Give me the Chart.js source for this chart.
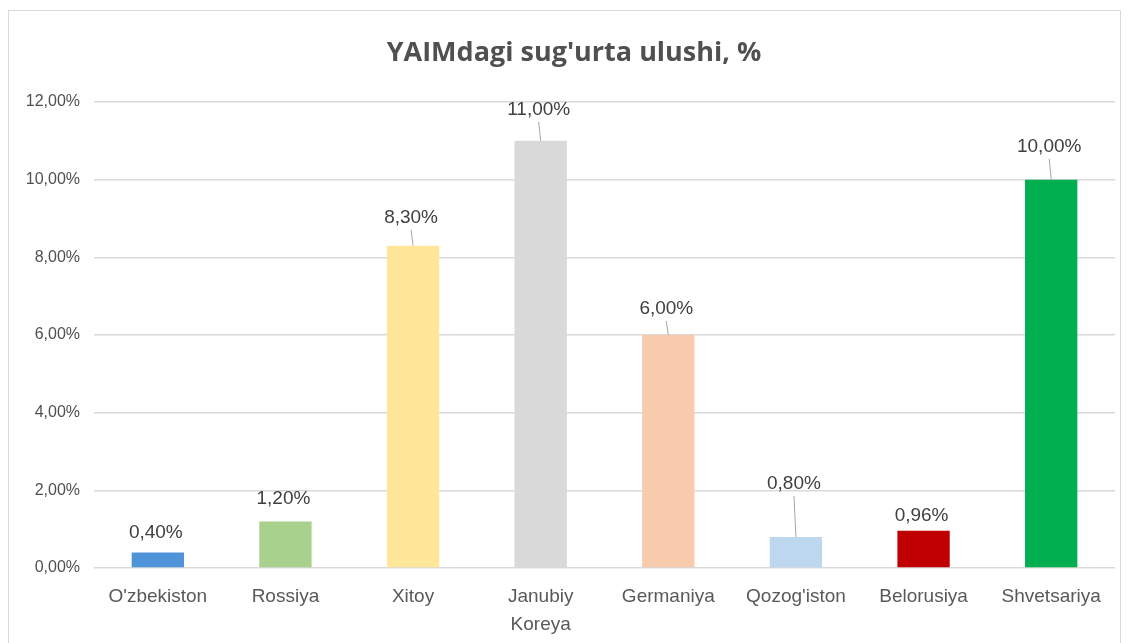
<!DOCTYPE html>
<html lang="uz">
<head>
    <meta charset="UTF-8">
    <title>YAIMdagi sug'urta ulushi</title>
    <style>
        body { margin: 0; background: #fff; }
        #frame {
            position: absolute;
            left: 8px; top: 10px;
            width: 1111px; height: 640px;
            border: 1px solid #d9d9d9;
            border-bottom: none;
        }
        #wrap { position: absolute; left: 0; top: 0; width: 1128px; height: 643px; }
    </style>
    <script src="https://cdn.jsdelivr.net/npm/chart.js"></script>
</head>
<body>
    <div id="frame"></div>
    <div id="wrap"><canvas id="barChart"></canvas></div>

    <script>
        const chartTitle = "YAIMdagi sug'urta ulushi, %";
        const countries = ["O'zbekiston", "Rossiya", "Xitoy", ["Janubiy", "Koreya"], "Germaniya", "Qozog'iston", "Belorusiya", "Shvetsariya"];
        const shares = [0.40, 1.20, 8.30, 11.00, 6.00, 0.80, 0.96, 10.00];
        const barColors = ['#4f93d8', '#a9d18e', '#ffe699', '#d9d9d9', '#f8cbad', '#bdd7ee', '#c00000', '#00b050'];
        const yTicks = [0, 2, 4, 6, 8, 10, 12];

        const fmt = v => v.toFixed(2).replace('.', ',') + '%';

        // label lift above bar top (px) and whether a leader line is drawn
        const labelLift = [20, 23, 28, 31, 26, 53, 15, 33];
        const leader = [false, false, true, true, true, true, false, true];

        // title is centred on the whole frame, not on the plot
        const titlePlugin = {
            id: 'frameTitle',
            afterDraw(chart) {
                const ctx = chart.ctx;
                ctx.save();
                ctx.font = 'bold 27px "Open Sans", sans-serif';
                ctx.fillStyle = '#505050';
                ctx.textAlign = 'center';
                ctx.textBaseline = 'middle';
                ctx.fillText(chartTitle, 574, 53);
                ctx.restore();
            }
        };

        const valueLabels = {
            id: 'valueLabels',
            afterDatasetsDraw(chart) {
                const ctx = chart.ctx;
                const meta = chart.getDatasetMeta(0);
                ctx.save();
                ctx.font = '19px "Liberation Sans", Arial, sans-serif';
                ctx.fillStyle = '#404040';
                ctx.textAlign = 'center';
                ctx.textBaseline = 'middle';
                meta.data.forEach((bar, i) => {
                    const cy = bar.y - labelLift[i];
                    ctx.fillText(fmt(shares[i]), bar.x - 2, cy);
                    if (leader[i]) {
                        ctx.strokeStyle = '#a6a6a6';
                        ctx.lineWidth = 1;
                        ctx.beginPath();
                        ctx.moveTo(bar.x - 2, cy + 12);
                        ctx.lineTo(bar.x, bar.y);
                        ctx.stroke();
                    }
                });
                ctx.restore();
            }
        };

        new Chart(document.getElementById('barChart'), {
            type: 'bar',
            data: {
                labels: countries,
                datasets: [{
                    data: shares,
                    backgroundColor: barColors,
                    barPercentage: 0.41,
                    categoryPercentage: 1
                }]
            },
            options: {
                responsive: true,
                maintainAspectRatio: false,
                animation: false,
                layout: { padding: { left: 0, right: 13, top: 102, bottom: 0 } },
                plugins: {
                    legend: { display: false },
                    tooltip: { enabled: false },
                    title: { display: false }
                },
                scales: {
                    x: {
                        grid: { display: false },
                        border: { display: false },
                        ticks: {
                            color: '#595959',
                            font: { family: '"Liberation Sans", Arial, sans-serif', size: 19, lineHeight: 1.45 },
                            padding: 7,
                            maxRotation: 0,
                            autoSkip: false
                        },
                        afterFit(scale) { scale.height = 75; }
                    },
                    y: {
                        min: 0,
                        max: 12,
                        afterBuildTicks(scale) { scale.ticks = yTicks.map(v => ({ value: v })); },
                        grid: { color: '#d9d9d9', lineWidth: 1.5, drawTicks: false },
                        border: { display: false },
                        ticks: {
                            color: '#505050',
                            font: { family: '"Liberation Sans", Arial, sans-serif', size: 16 },
                            padding: 14,
                            callback: v => fmt(v)
                        },
                        afterFit(scale) { scale.width = 94; }
                    }
                }
            },
            plugins: [valueLabels, titlePlugin]
        });
    </script>
</body>
</html>
